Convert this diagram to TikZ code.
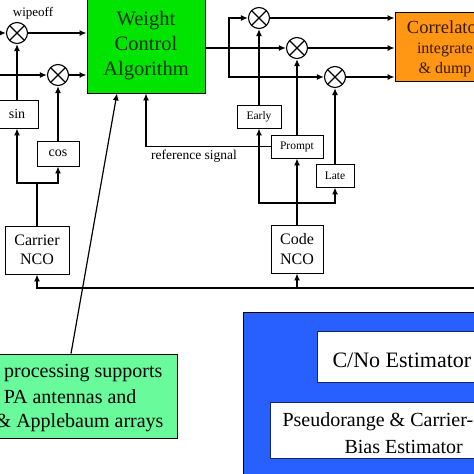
\documentclass[tikz,border=0pt]{standalone}
\usepackage{fontspec}
\setmainfont{Liberation Serif}
\usetikzlibrary{arrows.meta}
\definecolor{wcagreen}{RGB}{0,228,0}
\definecolor{wcatext}{RGB}{0,50,0}
\definecolor{corrorange}{RGB}{255,150,20}
\definecolor{corrtext}{RGB}{55,25,0}
\definecolor{procgreen}{RGB}{105,250,155}
\definecolor{estblue}{RGB}{40,95,255}

\begin{document}
\begin{tikzpicture}[x=1pt, y=-1pt,
    conn/.style={line width=1.6pt, -{Latex[length=7pt,width=6pt]}},
    wire/.style={line width=1.6pt},
    box/.style={draw, line width=0.8pt, fill=white, inner sep=0pt, align=center},
    mixer/.style={draw, circle, line width=1.1pt, minimum size=21pt, inner sep=0pt,
        path picture={\draw[line width=1.1pt]
            (path picture bounding box.north west) -- (path picture bounding box.south east)
            (path picture bounding box.south west) -- (path picture bounding box.north east);}},
    tiny/.style={font=\fontsize{11.5}{13}\selectfont},
    small/.style={font=\fontsize{13.5}{16}\selectfont},
    mid/.style={font=\fontsize{16}{19.5}\selectfont},
    big/.style={font=\fontsize{20}{25}\selectfont}]
    \useasboundingbox (0,0) rectangle (474,474);

    % Weight control block
    \node[box, fill=wcagreen, text=wcatext, minimum width=118pt, minimum height=94pt,
        font=\fontsize{20.5}{25}\selectfont] (wca) at (146,46) {Weight\\Control\\Algorithm};

    % Carrier wipeoff
    \node[mixer] (m1) at (17,33) {};
    \node[mixer] (m2) at (58,75) {};
    \node[box, minimum width=42pt, minimum height=28pt, font=\fontsize{14}{16}\selectfont] (sin) at (17,114) {sin};
    \node[box, minimum width=42pt, minimum height=25pt, font=\fontsize{14}{16}\selectfont] (cos) at (58,153.5) {cos};
    \node[box, mid, minimum width=64pt, minimum height=48pt] (carrier) at (37,250) {Carrier\\NCO};
    \node[font=\fontsize{13}{15}\selectfont] (wipe) at (33,13) {wipeoff};
    \coordinate (in1) at (-5,33);
    \coordinate (in2) at (-5,75);
    \coordinate (cj) at (37,183);

    % Code replicas
    \node[box, mid, minimum width=52pt, minimum height=48pt] (code) at (297,249) {Code\\NCO};
    \node[box, tiny, minimum width=44pt, minimum height=23pt] (early) at (259,116.5) {Early};
    \node[box, tiny, minimum width=52pt, minimum height=23pt] (prompt) at (297,146.5) {Prompt};
    \node[box, tiny, minimum width=38pt, minimum height=23pt] (late) at (335,175.5) {Late};
    \node[mixer] (mE) at (259,18) {};
    \node[mixer] (mP) at (297,48) {};
    \node[mixer] (mL) at (335,77) {};
    \node[small] (ref) at (194,156) {reference signal};
    \coordinate (kj) at (297,203);
    \coordinate (bj) at (229,48);
    \coordinate (busR) at (480,288);

    % Correlator
    \node[box, fill=corrorange, minimum width=105pt, minimum height=69pt] (corr) at (447.5,46.5) {};
    \node[text=corrtext, align=center, font=\fontsize{16}{20}\selectfont] (corrtxt) at (445,49)
        {{\fontsize{18.5}{22}\selectfont Correlator}\\integrate\\\& dump};

    % Processing note
    \node[box, fill=procgreen, minimum width=187pt, minimum height=84pt] (proc) at (83.5,396) {};
    \node[big, anchor=east] (p1) at (166,373) {processing supports};
    \node[big, anchor=east] (p2) at (140,397) {PA antennas and};
    \node[big, anchor=east] (p3) at (167,423) {\& Applebaum arrays};

    % Estimators
    \node[box, fill=estblue, minimum width=257pt, minimum height=188pt] (est) at (371.5,406) {};
    \node[box, draw=estblue!40!black, minimum width=183pt, minimum height=51pt] (cno) at (408.5,356.5) {};
    \node[box, draw=estblue!40!black, minimum width=230pt, minimum height=56pt] (pseudo) at (385,430) {};
    \node[anchor=west, font=\fontsize{22}{26}\selectfont] (cnotxt) at (329,360) {C/No Estimator};
    \node[big, anchor=west] (ps1) at (279,422) {Pseudorange \& Carrier-};
    \node[big, anchor=west] (ps2) at (341,447) {Bias Estimator};

    % Wipeoff connections
    \draw[conn] (in1) -- (m1);
    \draw[conn] (in2) -- (m2);
    \draw[conn] (m1) -- (m1 -| wca.west);
    \draw[conn] (m2) -- (m2 -| wca.west);
    \draw[conn] (sin) -- (m1);
    \draw[conn] (cos) -- (m2);
    \draw[wire] (carrier) -- (cj);
    \draw[conn] (cj) -| (sin);
    \draw[conn] (cj) -| (cos);

    % Code connections
    \draw[conn] (code) -- (prompt);
    \draw[conn] (kj) -| (early);
    \draw[conn] (kj) -| (late);
    \draw[conn] (early) -- (mE);
    \draw[conn] (prompt) -- (mP);
    \draw[conn] (late) -- (mL);
    \draw[conn] (wca.east |- mP) -- (mP);
    \draw[conn] (bj) |- (mE);
    \draw[conn] (bj) |- (mL);
    \draw[conn] (mE) -- (mE -| corr.west);
    \draw[conn] (mP) -- (mP -| corr.west);
    \draw[conn] (mL) -- (mL -| corr.west);
    \draw[conn] (prompt.west) -| (wca.south);

    % NCO feedback
    \draw[conn] (busR) -| (carrier);
    \draw[conn] (code.south |- busR) -- (code);

    % Note pointer
    \draw[line width=1.2pt, -{Latex[length=7pt,width=6pt]}] ([xshift=-12.5pt]proc.north) -- ([xshift=-29pt]wca.south);
\end{tikzpicture}
\end{document}
